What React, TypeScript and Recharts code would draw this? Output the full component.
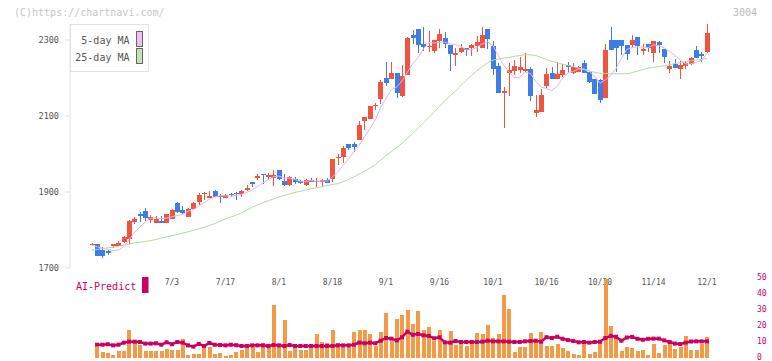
import React from 'react'
import { ComposedChart, Bar, Line, XAxis, YAxis } from 'recharts'

// daily candles, 6/12 .. 12/1 (index 0..115)
const open = [
  1762, 1763, 1747, 1745, 1757, 1758, 1768, 1777, 1821, 1843,
  1850, 1826, 1819, 1824, 1819, 1830, 1871, 1853, 1834, 1855,
  1874, 1894, 1885, 1903, 1889, 1885, 1896, 1898, 1896, 1905,
  1926, 1937, 1947, 1939, 1938, 1958, 1929, 1918, 1934, 1930,
  1918, 1932, 1928, 1927, 1932, 1935, 1989, 1993, 2026, 2026,
  2038, 2087, 2093, 2126, 2145, 2200, 2197, 2212, 2153, 2209,
  2313, 2329, 2289, 2282, 2272, 2296, 2304, 2287, 2261, 2268,
  2279, 2279, 2284, 2280, 2329, 2284, 2232, 2161, 2214, 2219,
  2221, 2218, 2224, 2109, 2111, 2180, 2213, 2197, 2208, 2234,
  2213, 2216, 2239, 2216, 2197, 2195, 2148, 2300, 2300, 2300,
  2287, 2287, 2308, 2271, 2289, 2266, 2295, 2276, 2224, 2237,
  2224, 2232, 2237, 2274, 2263, 2268,
]
const high = [
  1765, 1764, 1755, 1749, 1764, 1771, 1785, 1826, 1834, 1847,
  1858, 1840, 1836, 1836, 1843, 1854, 1874, 1863, 1857, 1874,
  1897, 1901, 1903, 1904, 1895, 1894, 1898, 1901, 1905, 1918,
  1927, 1947, 1948, 1950, 1958, 1959, 1947, 1941, 1939, 1931,
  1933, 1937, 1937, 1933, 1937, 1988, 1999, 2021, 2027, 2031,
  2087, 2098, 2127, 2134, 2195, 2242, 2242, 2213, 2234, 2307,
  2326, 2330, 2335, 2324, 2301, 2329, 2321, 2288, 2278, 2289,
  2280, 2290, 2311, 2335, 2330, 2297, 2239, 2177, 2239, 2247,
  2256, 2266, 2229, 2155, 2171, 2226, 2229, 2242, 2237, 2242,
  2239, 2231, 2247, 2217, 2198, 2196, 2289, 2335, 2301, 2301,
  2288, 2313, 2309, 2289, 2290, 2298, 2296, 2277, 2245, 2250,
  2245, 2245, 2254, 2284, 2268, 2342,
]
const low = [
  1761, 1731, 1727, 1734, 1753, 1757, 1767, 1763, 1817, 1821,
  1824, 1819, 1818, 1818, 1818, 1829, 1846, 1842, 1833, 1854,
  1867, 1879, 1884, 1887, 1872, 1884, 1888, 1880, 1887, 1903,
  1914, 1932, 1921, 1932, 1916, 1932, 1916, 1917, 1922, 1922,
  1917, 1926, 1914, 1914, 1923, 1925, 1971, 1977, 2010, 2004,
  2037, 2063, 2092, 2117, 2132, 2180, 2196, 2148, 2150, 2208,
  2289, 2267, 2271, 2268, 2267, 2280, 2278, 2218, 2232, 2265,
  2259, 2259, 2268, 2278, 2276, 2208, 2160, 2068, 2153, 2208,
  2212, 2217, 2140, 2098, 2110, 2174, 2196, 2196, 2203, 2216,
  2211, 2215, 2212, 2188, 2157, 2135, 2147, 2273, 2216, 2261,
  2247, 2282, 2261, 2261, 2268, 2242, 2266, 2239, 2213, 2225,
  2197, 2224, 2234, 2252, 2242, 2267,
]
const close = [
  1764, 1732, 1732, 1740, 1763, 1766, 1781, 1824, 1830, 1837,
  1832, 1834, 1829, 1819, 1842, 1853, 1848, 1845, 1855, 1871,
  1892, 1897, 1889, 1888, 1886, 1892, 1892, 1896, 1903, 1911,
  1922, 1942, 1944, 1945, 1945, 1935, 1918, 1940, 1926, 1923,
  1932, 1927, 1930, 1932, 1924, 1987, 1992, 2017, 2017, 2019,
  2076, 2096, 2126, 2129, 2190, 2188, 2214, 2161, 2205, 2305,
  2306, 2287, 2282, 2285, 2300, 2316, 2289, 2262, 2267, 2279,
  2274, 2288, 2295, 2313, 2303, 2224, 2161, 2167, 2221, 2232,
  2229, 2224, 2153, 2117, 2155, 2211, 2197, 2211, 2221, 2229,
  2229, 2229, 2213, 2189, 2158, 2142, 2274, 2274, 2279, 2284,
  2263, 2300, 2284, 2276, 2279, 2297, 2287, 2255, 2232, 2226,
  2234, 2239, 2253, 2253, 2258, 2318,
]
const ma5 = [
  1760, 1756, 1752, 1749, 1746, 1747, 1756, 1775, 1793, 1808,
  1821, 1831, 1832, 1830, 1831, 1835, 1838, 1841, 1849, 1854,
  1862, 1872, 1881, 1887, 1890, 1890, 1889, 1891, 1894, 1899,
  1905, 1915, 1924, 1933, 1940, 1942, 1937, 1937, 1933, 1928,
  1928, 1930, 1928, 1929, 1929, 1940, 1953, 1970, 1987, 2006,
  2024, 2045, 2067, 2089, 2123, 2146, 2169, 2176, 2192, 2215,
  2238, 2253, 2277, 2293, 2292, 2294, 2294, 2290, 2287, 2283,
  2274, 2274, 2281, 2290, 2295, 2285, 2259, 2234, 2215, 2201,
  2202, 2215, 2212, 2191, 2176, 2172, 2167, 2178, 2199, 2214,
  2217, 2224, 2224, 2218, 2204, 2186, 2195, 2207, 2225, 2251,
  2275, 2280, 2282, 2281, 2280, 2287, 2285, 2279, 2270, 2259,
  2247, 2237, 2237, 2241, 2247, 2264,
]
const ma25 = [
  1747, 1749, 1751, 1753, 1755, 1757, 1760, 1763, 1766, 1768,
  1770, 1772, 1775, 1779, 1782, 1785, 1788, 1792, 1795, 1799,
  1803, 1807, 1812, 1817, 1823, 1829, 1834, 1839, 1845, 1852,
  1860, 1866, 1872, 1877, 1882, 1887, 1891, 1895, 1899, 1902,
  1905, 1908, 1911, 1914, 1917, 1920, 1922, 1927, 1933, 1940,
  1948, 1955, 1963, 1972, 1984, 1996, 2006, 2017, 2028, 2041,
  2054, 2068, 2082, 2096, 2110, 2125, 2140, 2153, 2166, 2180,
  2194, 2207, 2219, 2230, 2240, 2247, 2250, 2252, 2254, 2257,
  2259, 2261, 2261, 2259, 2254, 2248, 2244, 2240, 2236, 2233,
  2230, 2226, 2222, 2218, 2215, 2212, 2212, 2211, 2211, 2211,
  2211, 2214, 2218, 2222, 2226, 2228, 2230, 2232, 2235, 2238,
  2240, 2243, 2245, 2247, 2249, 2252,
]
const volume = [
  null, 6.9, 3.8, 2.9, 1.7, 4.2, 4.2, 17.3, 11.0, 8.3,
  4.2, 4.2, 4.2, 4.2, 5.4, 4.8, 4.8, 11.7, 1.7, 2.3,
  2.3, 7.5, 6.7, 2.3, 2.9, 1.0, 1.7, 3.5, 4.8, 9.0,
  6.7, 3.5, 9.6, 6.7, 32.9, 7.9, 23.5, 4.2, 7.5, 4.8,
  4.8, 6.7, 14.8, 9.8, 9.2, 17.3, 9.6, 7.9, 7.9, 16.0,
  17.3, 17.3, 14.8, 7.3, 16.0, 27.9, 10.6, 24.3, 26.7, 29.8,
  21.0, 29.2, 17.3, 19.2, 10.4, 17.3, 10.4, 16.7, 7.9, 9.6,
  7.3, 9.6, 15.4, 14.8, 20.4, 12.3, 14.8, 39.2, 30.4, 3.5,
  6.7, 6.7, 15.4, 10.4, 16.0, 7.3, 7.3, 8.5, 6.0, 4.2,
  2.3, 1.7, 10.0, 2.3, 3.5, 9.6, 49.2, 19.8, 14.2, 4.2,
  6.7, 6.0, 4.2, 4.8, 1.7, 8.5, 2.9, 7.9, 10.4, 5.4,
  6.7, 13.5, 4.8, 4.8, 8.5, 12.9,
]
const aiPredict = [
  null, 8.3, 8.3, 8.6, 7.9, 8.3, 9.6, 10.2, 10.2, 10.0,
  9.0, 9.0, 9.2, 8.3, 9.8, 8.6, 10.0, 9.6, 7.9, 7.1,
  8.8, 7.5, 9.4, 8.3, 8.1, 7.9, 8.3, 8.0, 7.5, 7.5,
  7.9, 7.9, 7.9, 7.5, 8.1, 7.9, 7.5, 8.1, 7.5, 7.5,
  7.5, 7.5, 7.5, 7.5, 7.5, 7.5, 7.9, 7.9, 7.9, 8.3,
  9.6, 9.2, 9.6, 9.2, 10.8, 12.5, 12.1, 11.0, 13.0, 16.5,
  14.5, 15.0, 14.2, 13.8, 12.3, 12.9, 9.8, 9.6, 10.6, 10.0,
  10.0, 10.0, 10.0, 10.2, 10.8, 10.4, 10.4, 10.4, 10.2, 10.0,
  10.0, 10.4, 10.6, 10.8, 10.2, 13.0, 12.5, 13.3, 12.0, 11.2,
  10.6, 9.8, 10.0, 9.6, 10.0, 10.2, 12.5, 13.8, 13.3, 10.8,
  12.8, 13.2, 12.0, 11.4, 12.0, 12.1, 12.1, 11.0, 10.0, 9.0,
  8.7, 9.6, 10.3, 10.4, 10.4, 10.4,
]
const dateLabelIdx = [15, 25, 35, 45, 55, 65, 75, 85, 95, 105, 115]
const dateLabels = ['7/3', '7/17', '8/1', '8/18', '9/1', '9/16', '10/1', '10/16', '10/30', '11/14', '12/1']
const priceTicks = [1700, 1900, 2100, 2300]
const volumeTicks = [0, 10, 20, 30, 40, 50]

const MONO = "'DejaVu Sans Mono', monospace"
const RED = '#F0533F'
const BLUE = '#3E7CE6'
const ORANGE = '#F29A45'
const MAGENTA = '#CC0062'
const AXIS = '#E3E3E3'

// index -> pixel: first candle at x≈92, last at x≈707, plot spans 70..752
const X_DOMAIN: [number, number] = [-4.056, 123.41]
const gridTicks = Array.from({ length: 12 }, (_, k) =>
  k === 11 ? X_DOMAIN[1] : X_DOMAIN[0] + (k * (X_DOMAIN[1] - X_DOMAIN[0])) / 11
)

const rows = close.map((c, i) => ({
  i,
  open: open[i],
  high: high[i],
  low: low[i],
  close: c,
  ma5: ma5[i],
  ma25: ma25[i],
  vol: volume[i],
  ai: aiPredict[i],
}))

function Candle(props: any) {
  const { x, y, width, height, payload } = props
  if (height == null || !payload) return null
  const { open: o, close: c, high: h, low: l } = payload
  const color = c >= o ? RED : BLUE
  const cx = Math.round(x + width / 2)
  const k = height / (h - l || 1)
  const top = y + (h - Math.max(o, c)) * k
  const bot = y + (h - Math.min(o, c)) * k
  return (
    <g shapeRendering="crispEdges">
      <rect x={cx} y={y} width={1} height={height} fill={color} />
      <rect x={cx - 2} y={top} width={5} height={Math.max(1, bot - top)} fill={color} />
    </g>
  )
}

function GridTick(props: any) {
  const { x, y } = props
  return <line x1={x} x2={x} y1={y - 3} y2={y + 3} stroke={AXIS} strokeWidth={1} />
}

function AiDot(props: any) {
  const { cx, cy, index } = props
  if (cx == null || cy == null) return <g key={index} />
  return <rect key={index} x={cx - 2} y={cy - 2} width={4} height={4} fill={MAGENTA} />
}

export default function App() {
  return (
    <div style={{ position: 'absolute', left: 0, top: 0, width: 772, height: 361, background: '#fff', fontFamily: MONO }}>
      <div style={{ position: 'absolute', left: 0, top: 0 }}>
        <ComposedChart width={772} height={295} data={rows} margin={{ top: 24, right: 20, bottom: 0, left: 0 }}>
          <XAxis
            xAxisId="grid"
            dataKey="i"
            type="number"
            domain={X_DOMAIN}
            ticks={gridTicks}
            interval={0}
            height={0}
            tickSize={0}
            tickMargin={0}
            tickLine={false}
            axisLine={{ stroke: AXIS }}
            tick={GridTick}
          />
          <XAxis
            xAxisId="date"
            dataKey="i"
            type="number"
            domain={X_DOMAIN}
            ticks={dateLabelIdx}
            interval={0}
            height={27}
            tickSize={0}
            tickMargin={11}
            axisLine={false}
            tickLine={false}
            tickFormatter={(v: number) => dateLabels[dateLabelIdx.indexOf(v)] ?? ''}
            tick={{ fontSize: 8, fill: '#555', fontFamily: MONO }}
          />
          <YAxis
            type="number"
            domain={[1700, 2342]}
            ticks={priceTicks}
            interval={0}
            width={70}
            tickSize={5}
            tickMargin={6}
            axisLine={{ stroke: AXIS }}
            tickLine={{ stroke: AXIS }}
            tick={{ fontSize: 8.5, fill: '#555', fontFamily: MONO }}
          />
          <Bar xAxisId="grid" dataKey={(d: any) => [d.low, d.high]} barSize={5} shape={Candle} isAnimationActive={false} />
          <Line xAxisId="grid" dataKey="ma25" stroke="#B3D9A3" strokeWidth={1} dot={false} isAnimationActive={false} />
          <Line xAxisId="grid" dataKey="ma5" stroke="#E7B3E8" strokeWidth={1} dot={false} isAnimationActive={false} />
        </ComposedChart>
      </div>

      <div style={{ position: 'absolute', left: 0, top: 0 }}>
        <ComposedChart width={772} height={361} data={rows} margin={{ top: 278, right: 0, bottom: 3, left: 70 }}>
          <XAxis dataKey="i" type="number" domain={X_DOMAIN} hide />
          <YAxis
            orientation="right"
            type="number"
            domain={[0, 50]}
            ticks={volumeTicks}
            interval={0}
            width={20}
            tickSize={0}
            tickMargin={5}
            axisLine={false}
            tickLine={false}
            tick={{ fontSize: 8, fill: MAGENTA, fontFamily: MONO, dy: -1 }}
          />
          <Bar dataKey="vol" barSize={4} fill={ORANGE} isAnimationActive={false} shapeRendering="crispEdges" />
          <Line dataKey="ai" stroke={MAGENTA} strokeWidth={2.5} dot={AiDot} isAnimationActive={false} />
        </ComposedChart>
      </div>

      <svg width={772} height={361} style={{ position: 'absolute', left: 0, top: 0, pointerEvents: 'none' }} fontFamily={MONO}>
        <text x={14} y={16.2} fontSize={10} fill="#C6C6C6">(C)https://chartnavi.com/</text>
        <text x={757} y={16} fontSize={10} fill="#B8B8B8" textAnchor="end">3004</text>

        <rect x={70.5} y={24.5} width={78} height={47} fill="#fff" stroke="#E2E2E2" />
        <text x={129.5} y={43.8} fontSize={10} fill="#555" textAnchor="end">5-day MA</text>
        <rect x={136.5} y={31.5} width={6} height={15} fill="#F0C0F0" stroke="#666" />
        <text x={129.5} y={60.8} fontSize={10} fill="#555" textAnchor="end">25-day MA</text>
        <rect x={136.5} y={48.5} width={6} height={15} fill="#C2E2B4" stroke="#666" />

        <text x={76} y={289.6} fontSize={10} fill={MAGENTA}>AI-Predict</text>
        <rect x={142} y={277} width={6.5} height={16} fill={MAGENTA} />
      </svg>
    </div>
  )
}
